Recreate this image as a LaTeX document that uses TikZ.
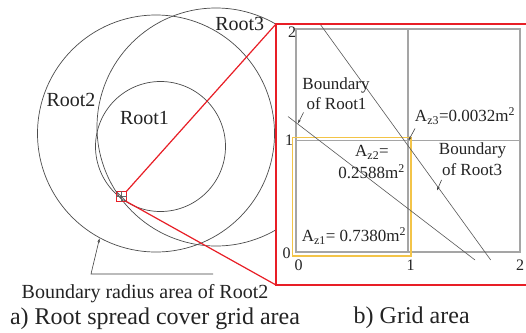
\documentclass[tikz,border=0pt]{standalone}
\usepackage{fontspec}
\setmainfont{LiberationSerif}[Extension=.ttf, UprightFont=*-Regular, BoldFont=*-Bold, ItalicFont=*-Italic]
\newfontfamily\tnr{LiberationSerif}[Extension=.ttf, UprightFont=*-Regular]
\usetikzlibrary{arrows.meta}
\definecolor{myred}{RGB}{232,30,38}
\definecolor{gridgray}{RGB}{165,165,165}
\definecolor{yel}{RGB}{243,196,72}
\definecolor{ink}{RGB}{35,35,35}
\begin{document}
\begin{tikzpicture}[x=1pt,y=-1pt,
  circ/.style={draw=black!70, line width=0.7pt},
  redl/.style={draw=myred, line width=1.2pt},
  gridl/.style={draw=gridgray, line width=1.1pt},
  diag/.style={draw=black!65, line width=0.6pt},
  lead/.style={draw=black!75, line width=0.6pt, -{Stealth[length=4pt,width=2.6pt]}},
  lbla/.style={font=\tnr\fontsize{20}{22}\selectfont, text=ink, inner sep=0, anchor=base},
  lblb/.style={font=\tnr\fontsize{17}{19}\selectfont, text=ink, inner sep=0, anchor=base},
  axl/.style={font=\tnr\fontsize{16}{18}\selectfont, text=ink, inner sep=0, anchor=base},
  capt/.style={font=\tnr\fontsize{24}{26}\selectfont, text=ink, inner sep=0, anchor=base}]
\useasboundingbox (0,0) rectangle (526,332);
\fill[white] (0,0) rectangle (526,332);

% panel a circles
\draw[circ] (156,133.5) circle[radius=118.5pt];
\draw[circ] (216,127) circle[radius=119pt];
\draw[circ] (160.5,146.5) circle[radius=65pt];

% mask for panel b
\fill[white] (276,24) rectangle (530,285);

% grid
\draw[gridl] (296,29) rectangle (520,252);
\draw[gridl] (408,29) -- (408,252);
\draw[gridl] (296,140.5) -- (520,140.5);
\draw[yel, line width=1.3pt] (292.7,137.3) rectangle (411,256);

% boundary lines
\coordinate (l1a) at (288,116.5);
\coordinate (l1b) at (475,260);
\coordinate (l2a) at (320,24);
\coordinate (l2b) at (490.7,260);
\draw[diag] (l1a) -- (l1b);
\draw[diag] (l2a) -- (l2b);

% red zoom box
\coordinate (btl) at (276,24);
\coordinate (bbl) at (276,285);
\coordinate (btr) at (530,24);
\coordinate (bbr) at (530,285);
\draw[redl] (btr) -- (btl) -- (bbl) -- (bbr);
\node (sq) [draw=myred, line width=1.1pt, minimum size=9.3pt, inner sep=0] at (121.4,196.4) {};
\draw[black!60, line width=0.4pt] (sq.north) -- (sq.south) (sq.west) -- (sq.east);
\draw[black!70, line width=0.4pt] (sq.north west) -- (sq.south east);
\draw[redl] (sq.north east) -- (btl);
\draw[redl] (sq.south east) -- (bbl);

% panel a labels
\node[lbla] (r3) at (239.7,30) {Root3};
\node[lbla] (r2) at (71,106) {Root2};
\node[lbla] (r1) at (144.5,124) {Root1};
\node[lbla] (brad) at (145,298) {Boundary radius area of Root2};
\coordinate (ld1) at (213,274);
\coordinate (ld2) at (91,274);
\coordinate (ldt) at (99.5,238.5);
\draw[lead] (ld1) -- (ld2) -- (ldt);

% panel b axis labels
\node[axl] (y2) at (292,37.5) {2};
\node[axl] (y1) at (289,145.5) {1};
\node[axl] (y0) at (286.5,258.5) {0};
\node[axl] (x0) at (298.7,270.5) {0};
\node[axl] (x1) at (410.5,270.5) {1};
\node[axl] (x2) at (520,270.5) {2};

% panel b labels
\node[lblb] (b1a) at (336,89.5) {Boundary};
\node[lblb] (b1b) at (336.5,109.5) {of Root1};
\coordinate (t1s) at (303.5,112.5);
\coordinate (t1e) at (298,123.5);
\draw[lead] (t1s) -- (t1e);

\node[lblb] (az3) at (465,121.7) {A\textsubscript{z3}=0.0032m\textsuperscript{2}};
\coordinate (t3s) at (415,128.5);
\coordinate (t3e) at (408.5,140.5);
\draw[lead] (t3s) -- (t3e);

\node[lblb] (b3a) at (472.5,154) {Boundary};
\node[lblb] (b3b) at (472,175) {of Root3};
\coordinate (t4s) at (441.5,180);
\coordinate (t4e) at (437,190.5);
\draw[lead] (t4s) -- (t4e);

\node[lblb] (az2a) at (372,156.7) {A\textsubscript{z2}=};
\node[lblb] (az2b) at (371.5,178.3) {0.2588m\textsuperscript{2}};
\node[lblb] (az1) at (354,241.7) {A\textsubscript{z1}= 0.7380m\textsuperscript{2}};

% captions
\node[capt] (capa) at (155,324) {a) Root spread cover grid area};
\node[capt] (capb) at (411.7,323.5) {b) Grid area};
\end{tikzpicture}
\end{document}
